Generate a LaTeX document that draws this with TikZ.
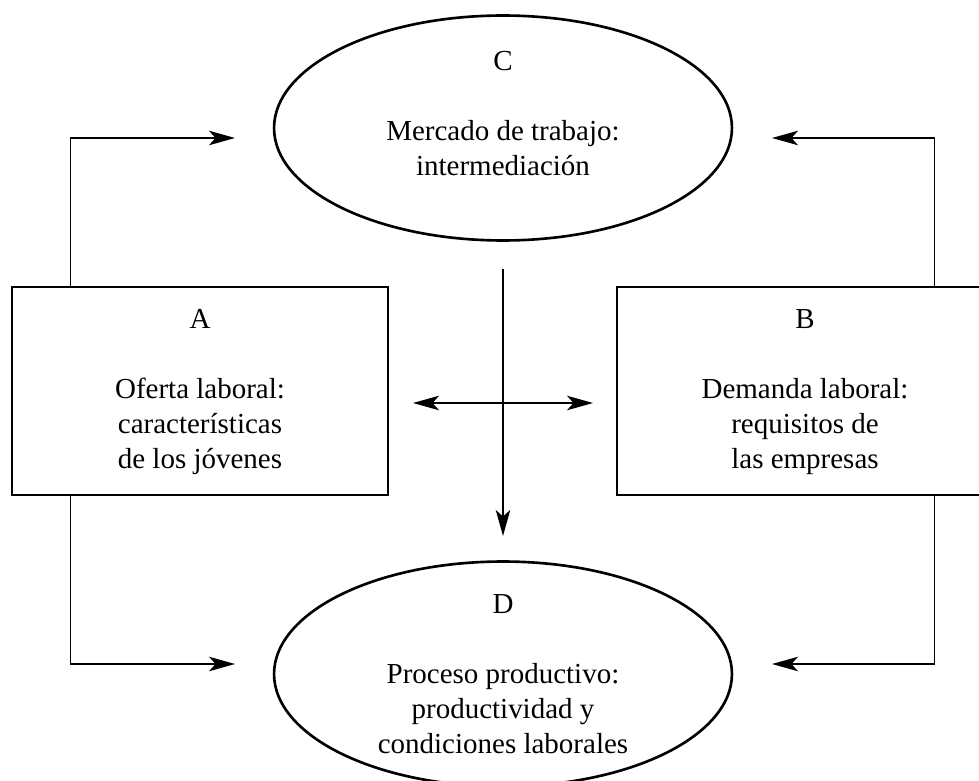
\documentclass[tikz,border=0pt]{standalone}
\usepackage{fontspec}
\setmainfont{Liberation Serif}
\usetikzlibrary{shapes.geometric,arrows.meta}

\begin{document}
\begin{tikzpicture}[x=0.02cm,y=-0.02cm,
    >={Stealth[length=0.52cm,width=0.29cm,inset=0.13cm]},
    caja/.style={draw,line width=1.6pt,minimum width=7.52cm,minimum height=4.16cm},
    ovalo/.style={draw,ellipse,line width=1.5pt,minimum width=9.16cm,minimum height=4.5cm,inner sep=0pt},
    texto/.style={align=center,anchor=north,inner sep=0pt,font=\fontsize{16.5}{19.9}\selectfont},
    flecha/.style={line width=0.9pt}]
    \useasboundingbox (0,0) rectangle (979,780);
    \node[ovalo] (C) at (503,128) {};
    \node[ovalo] (D) at (503,674) {};
    \node[caja] (A) at (200,391) {};
    \node[caja] (B) at (805,391) {};
    \node[texto] (tC) at (503,51) {C\\[19.9pt]Mercado de trabajo:\\intermediación};
    \node[texto] (tD) at (503,594) {D\\[19.9pt]Proceso productivo:\\productividad y\\condiciones laborales};
    \node[texto] (tA) at (200,309) {A\\[19.9pt]Oferta laboral:\\características\\de los jóvenes};
    \node[texto] (tB) at (805,309) {B\\[19.9pt]Demanda laboral:\\requisitos de\\las empresas};
    \coordinate (fC1) at (235,138);
    \coordinate (fC2) at (772,138);
    \coordinate (fD1) at (235,664);
    \coordinate (fD2) at (772,664);
    \coordinate (vArr) at (503,269);
    \coordinate (vAbj) at (503,536);
    \coordinate (hIzq) at (413,403);
    \coordinate (hDer) at (593,403);
    \draw[flecha,->] ([xshift=1.2cm]A.north west) |- (fC1);
    \draw[flecha,->] ([xshift=-1.2cm]B.north east) |- (fC2);
    \draw[flecha,->] ([xshift=1.2cm]A.south west) |- (fD1);
    \draw[flecha,->] ([xshift=-1.2cm]B.south east) |- (fD2);
    \draw[flecha,->] (vArr) -- (vAbj);
    \draw[flecha,<->] (hIzq) -- (hDer);
\end{tikzpicture}
\end{document}
